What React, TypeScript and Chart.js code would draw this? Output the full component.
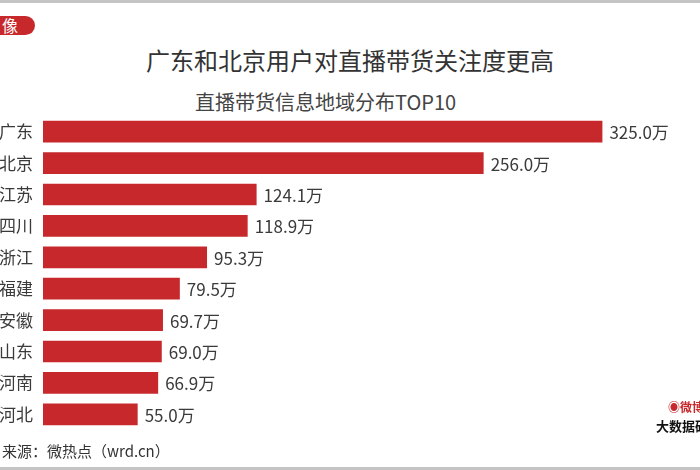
import React, { useEffect, useRef } from "react";
import { Chart, registerables } from "chart.js";

Chart.register(...registerables);

const categories = ["广东", "北京", "江苏", "四川", "浙江", "福建", "安徽", "山东", "河南", "河北"];
const values = [325.0, 256.0, 124.1, 118.9, 95.3, 79.5, 69.7, 69.0, 66.9, 55.0];
const unit = "万";
const titleText = "广东和北京用户对直播带货关注度更高";
const subtitleText = "直播带货信息地域分布TOP10";
const sourceText = "来源：微热点（wrd.cn）";

const FONT = '"Noto Sans CJK SC", "Noto Sans", sans-serif';

const valueLabels = {
  id: "valueLabels",
  afterDatasetsDraw(chart: any) {
    const ctx = chart.ctx;
    const meta = chart.getDatasetMeta(0);
    ctx.save();
    ctx.font = `17px ${FONT}`;
    ctx.fillStyle = "#3a3a3a";
    ctx.textAlign = "left";
    ctx.textBaseline = "middle";
    meta.data.forEach((bar: any, i: number) => {
      ctx.fillText(values[i].toFixed(1) + unit, bar.x + 7, bar.y + 1);
    });
    ctx.restore();
  },
};

export default function App() {
  const ref = useRef<HTMLCanvasElement | null>(null);
  useEffect(() => {
    if (!ref.current) return;
    const chart = new Chart(ref.current, {
      type: "bar",
      data: {
        labels: categories,
        datasets: [
          {
            data: values,
            backgroundColor: "#c7282b",
            borderWidth: 0,
            barPercentage: 0.69,
            categoryPercentage: 1,
          },
        ],
      },
      options: {
        indexAxis: "y",
        animation: false,
        responsive: false,
        maintainAspectRatio: false,
        layout: { padding: { top: 116, bottom: 40, right: 10, left: 0 } },
        plugins: {
          legend: { display: false },
          tooltip: { enabled: false },
          title: { display: false },
        },
        scales: {
          x: {
            display: false,
            min: 0,
            max: 375.9,
          },
          y: {
            grid: { display: false, drawTicks: false },
            border: { display: false },
            ticks: {
              color: "#3a3a3a",
              font: { size: 17, family: FONT },
              padding: 10,
              autoSkip: false,
            },
            afterFit(scale: any) {
              scale.width = 63;
            },
          },
        },
      },
      plugins: [valueLabels],
    });
    return () => chart.destroy();
  }, []);

  return (
    <div
      style={{
        position: "fixed",
        left: 0,
        top: 0,
        width: 700,
        height: 470,
        overflow: "hidden",
        background: "#fff",
        fontFamily: FONT,
      }}
    >
      <div style={{ position: "absolute", left: 0, top: 0, width: 700, height: 3, background: "#c4c4c4" }} />
      <div style={{ position: "absolute", left: 0, top: 467, width: 700, height: 3, background: "#c4c4c4" }} />
      <div
        style={{
          position: "absolute",
          left: -20,
          top: 16,
          width: 55,
          height: 19,
          background: "#c7282b",
          borderRadius: 10,
          color: "#fff",
          fontSize: 16,
          lineHeight: "19px",
          paddingLeft: 22,
          boxSizing: "border-box",
        }}
      >
        像
      </div>
      <div
        style={{
          position: "absolute",
          left: 0,
          width: 700,
          top: 43,
          textAlign: "center",
          fontSize: 24,
          lineHeight: "34px",
          color: "#333",
        }}
      >
        {titleText}
      </div>
      <div
        style={{
          position: "absolute",
          left: 195,
          top: 88,
          fontSize: 20,
          lineHeight: "28px",
          color: "#444",
          whiteSpace: "nowrap",
        }}
      >
        {subtitleText}
      </div>
      <canvas
        ref={ref}
        width={720}
        height={470}
        style={{ position: "absolute", left: -20, top: 0, width: 720, height: 470 }}
      />
      <div
        style={{
          position: "absolute",
          left: 2,
          top: 440,
          fontSize: 15,
          lineHeight: "22px",
          color: "#333",
          whiteSpace: "nowrap",
        }}
      >
        {sourceText}
      </div>
      <div
        style={{
          position: "absolute",
          left: 668,
          top: 400,
          fontSize: 12,
          lineHeight: "14px",
          color: "#c7282b",
          fontWeight: 700,
          whiteSpace: "nowrap",
        }}
      >
        ◉微博
      </div>
      <div
        style={{
          position: "absolute",
          left: 656,
          top: 418,
          fontSize: 13,
          lineHeight: "15px",
          color: "#111",
          fontWeight: 700,
          whiteSpace: "nowrap",
        }}
      >
        大数据研究
      </div>
    </div>
  );
}
